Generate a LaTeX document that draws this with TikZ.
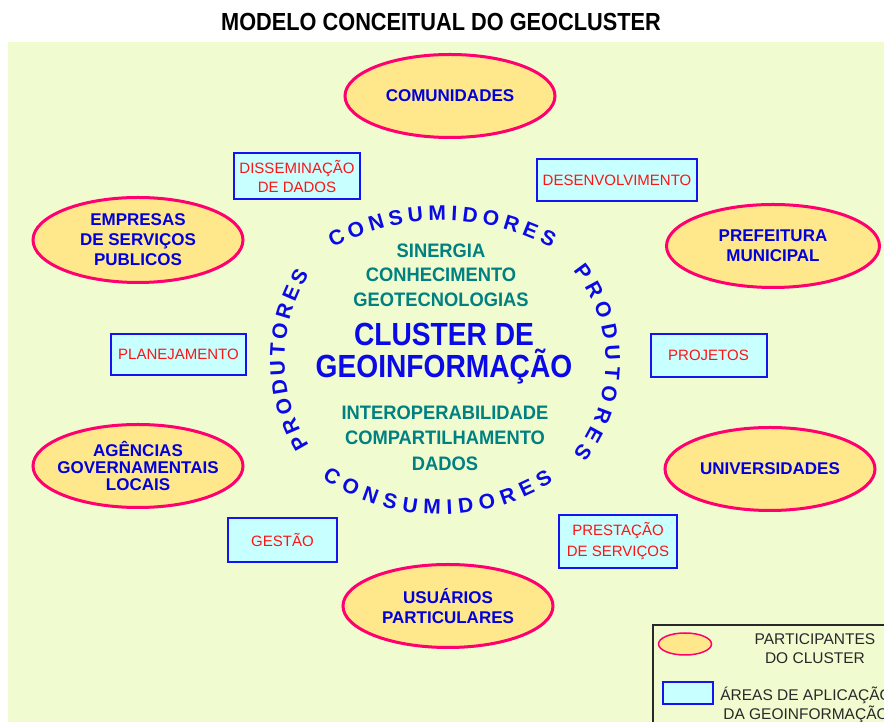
\documentclass[tikz,border=0pt]{standalone}
\usepackage{fontspec}
\setmainfont{Liberation Sans}
\newfontfamily\narrowfont[FakeStretch=0.88]{Liberation Sans}
\newfontfamily\themefont[FakeStretch=0.94]{Liberation Sans}
\usepackage{xcolor}
\usetikzlibrary{shapes.geometric,decorations.text}

\definecolor{bgpale}{RGB}{240,251,208}
\definecolor{ellfill}{RGB}{255,232,140}
\definecolor{ellline}{RGB}{255,0,110}
\definecolor{boxfill}{RGB}{200,255,255}
\definecolor{boxline}{RGB}{20,20,240}
\definecolor{boxred}{RGB}{255,20,20}
\definecolor{partblue}{RGB}{0,0,220}
\definecolor{arcblue}{RGB}{10,10,230}
\definecolor{tealtext}{RGB}{0,128,128}
\definecolor{legendgray}{RGB}{40,40,40}

\newcommand{\arcletters}{\bfseries\fontsize{21}{21}\selectfont}

\begin{document}
\begin{tikzpicture}[x=1pt,y=1pt,
  participant/.style={ellipse, draw=ellline, fill=ellfill, line width=3pt,
    minimum width=210pt, minimum height=83pt, inner sep=0pt, align=center,
    text=partblue, font=\bfseries\fontsize{17}{20}\selectfont},
  area/.style={rectangle, draw=boxline, fill=boxfill, line width=2pt,
    inner sep=0pt, align=center, text=boxred, font=\fontsize{15}{19}\selectfont},
  roletext/.style={decorate, decoration={text along path, text align={fit to path},
    raise=-7.5pt, text color=arcblue}},
  themes/.style={align=center, text=tealtext,
    font=\themefont\bfseries\fontsize{19.5}{24.5}\selectfont},
  legendtext/.style={align=center, text=legendgray, font=\fontsize{15.5}{19}\selectfont}]

\useasboundingbox (0,0) rectangle (884,722);
\clip (0,0) rectangle (884,722);
\fill[white] (0,0) rectangle (884,722);
\fill[bgpale] (8,0) rectangle (884,680);

\node[font=\narrowfont\bfseries\fontsize{24.7}{24.7}\selectfont] (titulo) at (441,700) {MODELO CONCEITUAL DO GEOCLUSTER};

% participantes do cluster
\node[participant] (comunidades) at (450,626) {COMUNIDADES};
\node[participant, minimum height=85pt] (empresas) at (138,482) {EMPRESAS\\DE SERVIÇOS\\PUBLICOS};
\node[participant, minimum width=213pt] (prefeitura) at (773,476) {PREFEITURA\\MUNICIPAL};
\node[participant, inner xsep=-12pt, font=\bfseries\fontsize{17}{17}\selectfont] (agencias) at (138,256) {AGÊNCIAS\\GOVERNAMENTAIS\\LOCAIS};
\node[participant] (universidades) at (770,253) {UNIVERSIDADES};
\node[participant] (usuarios) at (448,116) {USUÁRIOS\\PARTICULARES};

% areas de aplicacao
\node[area, minimum width=126pt, minimum height=46pt] (disseminacao) at (297,546) {DISSEMINAÇÃO\\DE DADOS};
\node[area, minimum width=160pt, minimum height=42pt] (desenvolvimento) at (617,542) {DESENVOLVIMENTO};
\node[area, minimum width=135pt, minimum height=41pt] (planejamento) at (178.5,367.5) {PLANEJAMENTO};
\node[area, minimum width=116pt, minimum height=43pt] (projetos) at (708.5,366.5) {PROJETOS};
\node[area, minimum width=109pt, minimum height=44pt] (gestao) at (282.5,182) {GESTÃO};
\node[area, minimum width=118pt, minimum height=53pt, font=\fontsize{15}{21}\selectfont] (prestacao) at (618,180.5) {PRESTAÇÃO\\DE SERVIÇOS};

% centro
\node[themes] (sinergia) at (441,447) {SINERGIA\\CONHECIMENTO\\GEOTECNOLOGIAS};
\node[align=center, text=arcblue, font=\narrowfont\bfseries\fontsize{32}{32}\selectfont] (cluster) at (444,368) {CLUSTER DE\\GEOINFORMAÇÃO};
\node[themes, font=\themefont\bfseries\fontsize{19.5}{25.5}\selectfont] (interoperabilidade) at (445,284) {INTEROPERABILIDADE\\COMPARTILHAMENTO\\DADOS};

\path[roletext, decoration={text={|\arcletters|CONSUMIDORES}}]
  (442,272) ++(118.3:237) arc[start angle=118.3, end angle=61.6, radius=237];
\path[roletext, decoration={text={|\arcletters|CONSUMIDORES}}]
  (440,419) ++(236:204) arc[start angle=236, end angle=302.5, radius=204];
\path[roletext, decoration={text={|\arcletters|PRODUTORES}}]
  (445,362) ++(212:168) arc[start angle=212, end angle=148, radius=168];
\path[roletext, decoration={text={|\arcletters|PRODUTORES}}]
  (460,360) ++(39:153) arc[start angle=39, end angle=-39, radius=153];

% legenda
\draw[legendgray, line width=1.2pt] (653,-5) rectangle (895,97);
\node[participant, line width=1.5pt, minimum width=53pt, minimum height=22pt] (legparticipante) at (685,78) {};
\node[legendtext] (legparticipantetexto) at (815,73.5) {PARTICIPANTES\\DO CLUSTER};
\node[area, minimum width=50pt, minimum height=22pt] (legarea) at (688,29) {};
\node[legendtext] (legareatexto) at (806,17) {ÁREAS DE APLICAÇÃO\\DA GEOINFORMAÇÃO};
\end{tikzpicture}
\end{document}
